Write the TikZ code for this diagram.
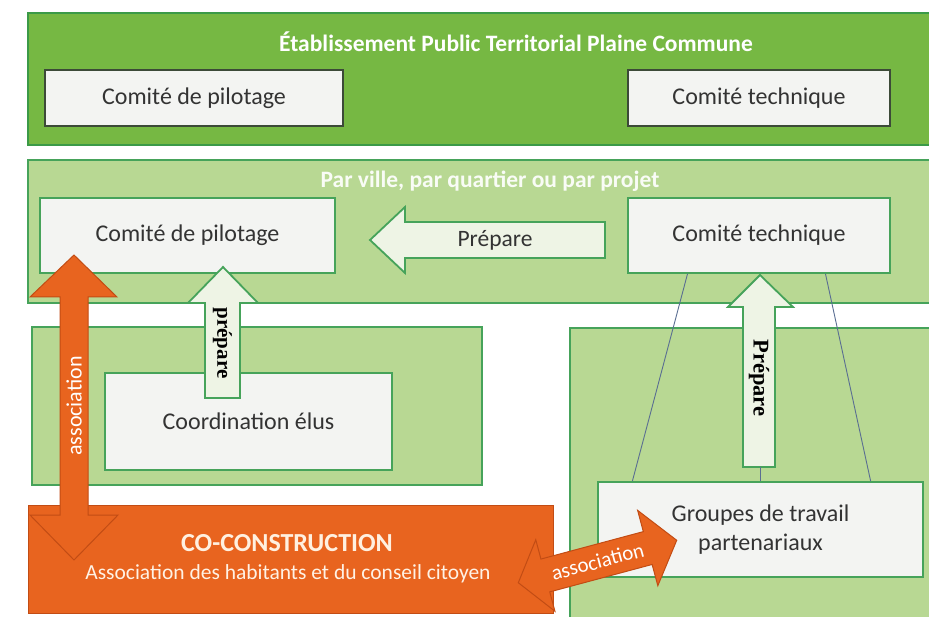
\documentclass[tikz,border=0pt]{standalone}
\usepackage{fontspec}
\setmainfont{Carlito}
\newfontfamily\serifb{Liberation Serif}
\usetikzlibrary{calc}
\definecolor{darkband}{HTML}{76B843}
\definecolor{darkbandline}{HTML}{3B9A47}
\definecolor{lightband}{HTML}{B8D893}
\definecolor{lightbandline}{HTML}{46A35A}
\definecolor{boxfill}{HTML}{F3F4F2}
\definecolor{topboxline}{HTML}{3C4A38}
\definecolor{txt}{HTML}{333333}
\definecolor{orangefill}{HTML}{E8641F}
\definecolor{orangeline}{HTML}{C24C14}
\definecolor{arrowfill}{HTML}{EEF4E5}
\definecolor{thinline}{HTML}{5A6E92}
\tikzset{
  darkbandbox/.style={fill=darkband, draw=darkbandline, line width=2pt},
  lightbandbox/.style={fill=lightband, draw=lightbandline, line width=1.8pt},
  topbox/.style={rectangle, fill=boxfill, draw=topboxline, line width=2pt, text=txt,
    font=\fontsize{24}{28}\selectfont, inner sep=0pt},
  greenbox/.style={rectangle, fill=boxfill, draw=lightbandline, line width=1.8pt, text=txt,
    font=\fontsize{24}{28}\selectfont, inner sep=0pt, align=center},
  bandtitle/.style={text=white, font=\bfseries\fontsize{23.5}{27}\selectfont},
  preparrow/.style={fill=arrowfill, draw=lightbandline, line width=1.8pt},
  orangearrow/.style={fill=orangefill, draw=orangeline, line width=1pt},
  preptext/.style={text=black, font=\serifb\bfseries\fontsize{21}{24}\selectfont, inner sep=0pt},
  assoctext/.style={text=white, font=\fontsize{21}{24}\selectfont, inner sep=0pt},
  thin/.style={draw=thinline, line width=0.9pt}
}
\begin{document}
\begin{tikzpicture}[x=1pt,y=-1pt]
\useasboundingbox (0,0) rectangle (929,617);
\clip (0,0) rectangle (929,617);
\fill[white] (0,0) rectangle (929,617);
% bands
\draw[darkbandbox] (28,13) rectangle (940,145);
\node[bandtitle] (t1) at (516,42) {Établissement Public Territorial Plaine Commune};
\draw[lightbandbox] (28,160) rectangle (940,303);
\node[bandtitle, text=white!92!lightband] (t2) at (490,181) {Par ville, par quartier ou par projet};
\draw[lightbandbox] (32,327) rectangle (482,485);
\draw[lightbandbox] (570,328) rectangle (940,630);
% top boxes
\node[topbox, minimum width=298pt, minimum height=56pt] (cp1) at (194,98) {Comité de pilotage};
\node[topbox, minimum width=262pt, minimum height=56pt] (ct1) at (759,98) {Comité technique};
% second band boxes
\node[greenbox, minimum width=295pt, minimum height=75pt] (cp2) at (187.5,235.5) {Comité de pilotage};
\node[greenbox, minimum width=262pt, minimum height=75pt] (ct2) at (759,235.5) {Comité technique};
% lower boxes
\node[greenbox, minimum width=287pt, minimum height=97pt] (ce) at (248.5,421.5) {Coordination élus};
\node[greenbox, minimum width=325pt, minimum height=95pt] (gt) at (760.5,529.5) {Groupes de travail\\[1pt]partenariaux};
% thin lines
\draw[thin] ($(ct2.south west)!0.229!(ct2.south east)$) -- ($(gt.north west)!0.108!(gt.north east)$);
\draw[thin] ($(ct2.south west)!0.752!(ct2.south east)$) -- ($(gt.north west)!0.837!(gt.north east)$);
% orange box
\fill[orangefill, draw=orangeline, line width=1pt] (28,505) rectangle (553,613);
\node[text=white!88!orange, font=\bfseries\fontsize{26}{30}\selectfont] (cot) at (287,543) {CO-CONSTRUCTION};
\node[text=white!90!orange, font=\fontsize{21.5}{25}\selectfont] (cos) at (288,574) {Association des habitants et du conseil citoyen};
% horizontal Prépare arrow
\draw[preparrow] (370,240) -- (405,207) -- (405,222) -- (605,222) -- (605,258) -- (405,258) -- (405,273) -- cycle;
\node[text=txt, font=\fontsize{23.5}{26}\selectfont] (p1) at (495,240) {Prépare};
% small prépare arrow
\draw[preparrow] (223,267) -- (258,303) -- (240,303) -- (240,398) -- (205,398) -- (205,303) -- (188,303) -- cycle;
\node[preptext, rotate=-90] (p2) at (222.5,343) {prépare};
% right Prépare arrow
\draw[preparrow] (760,275) -- (793,307) -- (775,307) -- (775,467) -- (743,467) -- (743,307) -- (728,307) -- cycle;
\node[preptext, rotate=-90, font=\serifb\bfseries\fontsize{22.5}{25}\selectfont] (p3) at (759,378) {Prépare};
\coordinate (p3b) at (760,467);
\draw[thin] (p3b) -- (p3b |- gt.north);
% vertical orange double arrow
\draw[orangearrow] (74,255) -- (117,297) -- (88,297) -- (88,515) -- (118,515) -- (74,560) -- (30,515) -- (60,515) -- (60,297) -- (30,297) -- cycle;
\node[assoctext, rotate=90, font=\fontsize{22}{25}\selectfont] (a1) at (74,406) {association};
% diagonal orange double arrow
\begin{scope}[shift={(597.5,561.5)}, rotate=15]
\draw[orangearrow] (-82,0) -- (-54,-37) -- (-54,-17) -- (52,-17) -- (52,-39) -- (82,0) -- (52,39) -- (52,17) -- (-54,17) -- (-54,37) -- cycle;
\node[assoctext, rotate=15] (a2) at (0,0) {association};
\end{scope}
\end{tikzpicture}
\end{document}
